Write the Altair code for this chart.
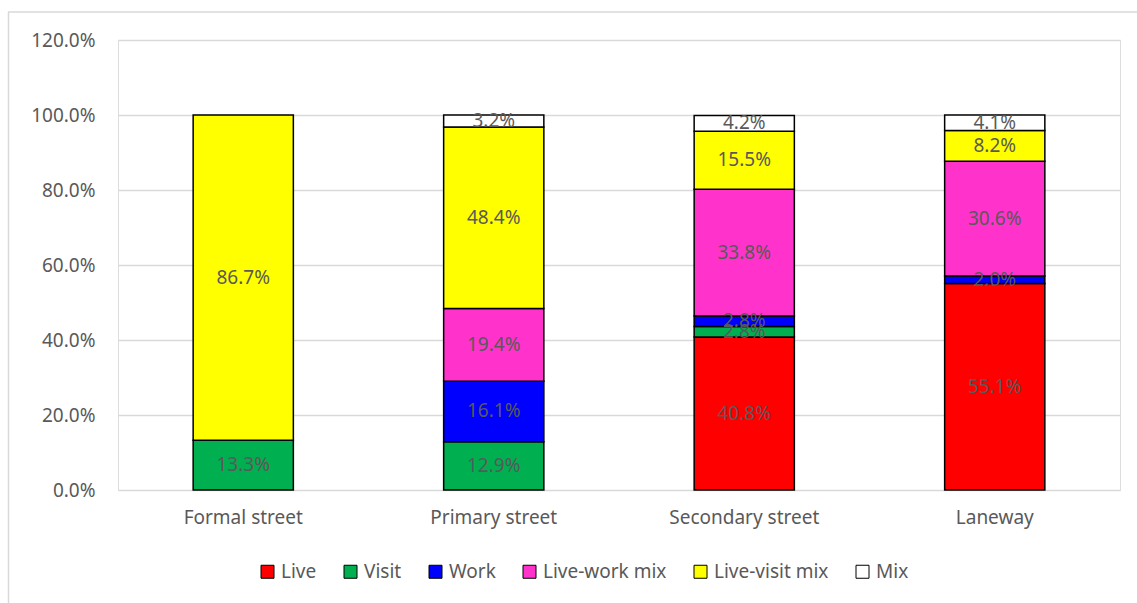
import altair as alt
import pandas as pd

categories = ["Formal street", "Primary street", "Secondary street", "Laneway"]
series = ["Live", "Visit", "Work", "Live-work mix", "Live-visit mix", "Mix"]
colors = ["#FF0000", "#00B050", "#0000FF", "#FF33CC", "#FFFF00", "#FFFFFF"]

live = [0.0, 0.0, 40.8, 55.1]
visit = [13.3, 12.9, 2.8, 0.0]
work = [0.0, 16.1, 2.8, 2.0]
live_work = [0.0, 19.4, 33.8, 30.6]
live_visit = [86.7, 48.4, 15.5, 8.2]
mix = [0.0, 3.2, 4.2, 4.1]

values = [live, visit, work, live_work, live_visit, mix]
rows = []
for si, (s, vals) in enumerate(zip(series, values)):
    for ci, c in enumerate(categories):
        if vals[ci] > 0:
            rows.append({"category": c, "series": s, "order": si, "value": vals[ci]})
df = pd.DataFrame(rows)

FONT = "Noto Sans"
GRAY = "#595959"

base = alt.Chart(df).transform_stack(
    stack="value", groupby=["category"], sort=[alt.SortField("order")], as_=["y0", "y1"]
).transform_calculate(
    mid="(datum.y0 + datum.y1) / 2",
    lab="format(datum.value, '.1f') + '%'",
)

x_enc = alt.X(
    "category:N",
    sort=categories,
    scale=alt.Scale(paddingInner=0.6, paddingOuter=0.3),
    axis=alt.Axis(title=None, labelAngle=0, domain=False, ticks=False, labelPadding=18,
                  labelFontSize=19, labelFont=FONT, labelColor=GRAY),
)

bars = base.mark_bar(stroke="black", strokeWidth=1.5).encode(
    x=x_enc,
    y=alt.Y("y0:Q", scale=alt.Scale(domain=[0, 120], nice=False),
            axis=alt.Axis(title=None, values=[0, 20, 40, 60, 80, 100, 120],
                          labelExpr="format(datum.value, '.1f') + '%'",
                          domain=False, ticks=False, labelPadding=23,
                          labelFontSize=19, labelFont=FONT, labelColor=GRAY,
                          gridColor="#d9d9d9", gridWidth=1.3)),
    y2="y1:Q",
    color=alt.Color("series:N", sort=series,
                    scale=alt.Scale(domain=series, range=colors),
                    legend=alt.Legend(title=None, orient="none", direction="horizontal",
                                      legendX=140, legendY=522,
                                      symbolType="square", symbolSize=169,
                                      symbolStrokeColor="black", symbolStrokeWidth=1,
                                      labelFontSize=19, labelFont=FONT, labelColor=GRAY,
                                      labelOffset=4, columnPadding=24)),
    order=alt.Order("order:Q"),
)

texts = base.mark_text(fontSize=19, font=FONT, color=GRAY).encode(
    x=alt.X("category:N", sort=categories),
    y=alt.Y("mid:Q"),
    text="lab:N",
)

border = alt.Chart(pd.DataFrame({"k": [0]})).mark_rule(color="#d9d9d9", strokeWidth=1.5).encode(
    x=alt.value(-109.5), y=alt.value(-28), y2=alt.value(563)
)
border_top = alt.Chart(pd.DataFrame({"k": [0]})).mark_rule(color="#d9d9d9", strokeWidth=1.5).encode(
    x=alt.value(-110), x2=alt.value(1019), y=alt.value(-28)
)

chart = alt.layer(bars, texts, border, border_top).properties(
    width=1002, height=450,
    autosize=alt.AutoSizeParams(type="none"),
    padding={"left": 118, "top": 40, "right": 17, "bottom": 113},
).configure_view(stroke=None).configure(background="white")

chart.save("out.html", embed_options={"renderer": "svg", "actions": False})
